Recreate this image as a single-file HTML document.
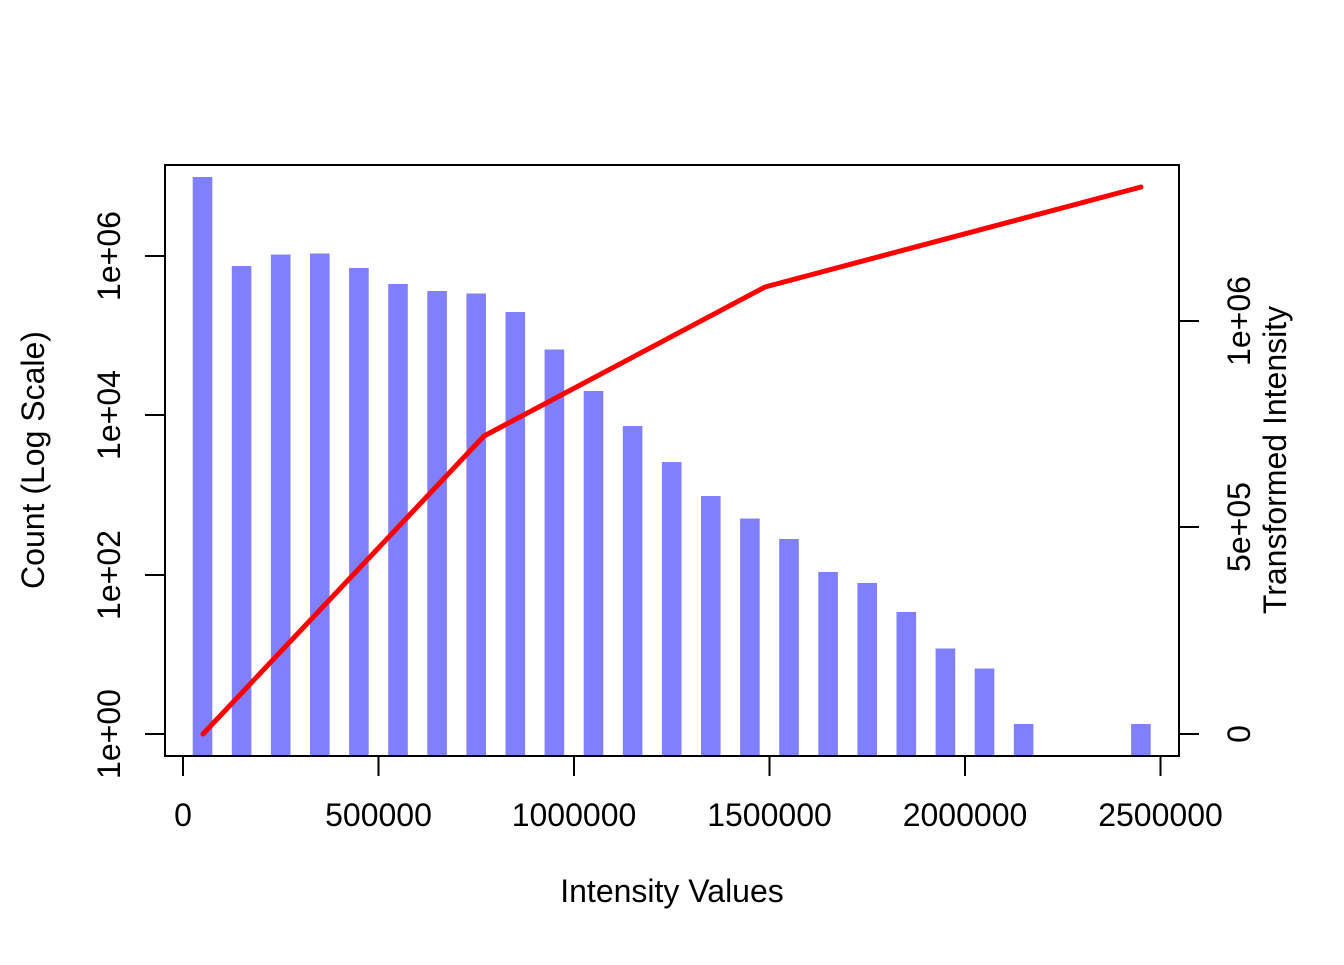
<!DOCTYPE html>
<html><head><style>body{margin:0;background:#fff}</style></head><body>
<svg width="1344" height="960" xmlns="http://www.w3.org/2000/svg" font-family="Liberation Sans, Arial, sans-serif" font-size="32">
<rect width="1344" height="960" fill="#fff"/>
<g fill="#8080ff">
<rect x="192.7" y="177" width="19.6" height="579"/>
<rect x="231.8" y="266" width="19.6" height="490"/>
<rect x="270.9" y="254.5" width="19.6" height="501.5"/>
<rect x="310" y="253.5" width="19.6" height="502.5"/>
<rect x="349.1" y="268" width="19.6" height="488"/>
<rect x="388.2" y="284" width="19.6" height="472"/>
<rect x="427.3" y="291" width="19.6" height="465"/>
<rect x="466.4" y="293.5" width="19.6" height="462.5"/>
<rect x="505.5" y="312" width="19.6" height="444"/>
<rect x="544.6" y="349.5" width="19.6" height="406.5"/>
<rect x="583.7" y="391" width="19.6" height="365"/>
<rect x="622.8" y="426" width="19.6" height="330"/>
<rect x="661.9" y="462" width="19.6" height="294"/>
<rect x="701" y="496" width="19.6" height="260"/>
<rect x="740.1" y="518.5" width="19.6" height="237.5"/>
<rect x="779.2" y="539" width="19.6" height="217"/>
<rect x="818.3" y="572" width="19.6" height="184"/>
<rect x="857.4" y="583" width="19.6" height="173"/>
<rect x="896.5" y="612" width="19.6" height="144"/>
<rect x="935.6" y="648.5" width="19.6" height="107.5"/>
<rect x="974.7" y="668.5" width="19.6" height="87.5"/>
<rect x="1013.8" y="724" width="19.6" height="32"/>
<rect x="1131.1" y="724" width="19.6" height="32"/>
</g>
<polyline points="203,734 484,436 765,287 1141,187" fill="none" stroke="#ff0000" stroke-width="5" stroke-linecap="round" stroke-linejoin="round"/>
<rect x="165" y="165" width="1014" height="591" fill="none" stroke="#000" stroke-width="2"/>
<g stroke="#000" stroke-width="2">
<line x1="183" y1="756" x2="1160.5" y2="756"/>
<line x1="183" y1="756" x2="183" y2="776"/>
<line x1="378.5" y1="756" x2="378.5" y2="776"/>
<line x1="574" y1="756" x2="574" y2="776"/>
<line x1="769.5" y1="756" x2="769.5" y2="776"/>
<line x1="965" y1="756" x2="965" y2="776"/>
<line x1="1160.5" y1="756" x2="1160.5" y2="776"/>
<line x1="165" y1="256" x2="165" y2="734"/>
<line x1="145" y1="256" x2="165" y2="256"/>
<line x1="145" y1="415" x2="165" y2="415"/>
<line x1="145" y1="575" x2="165" y2="575"/>
<line x1="145" y1="734" x2="165" y2="734"/>
<line x1="1179" y1="321" x2="1199" y2="321"/>
<line x1="1179" y1="527" x2="1199" y2="527"/>
<line x1="1179" y1="734" x2="1199" y2="734"/>
</g>
<g text-anchor="middle">
<text x="183" y="826">0</text>
<text x="378.5" y="826">500000</text>
<text x="574" y="826">1000000</text>
<text x="769.5" y="826">1500000</text>
<text x="965" y="826">2000000</text>
<text x="1160.5" y="826">2500000</text>
<text x="672" y="902">Intensity Values</text>
<text transform="translate(120,256) rotate(-90)">1e+06</text>
<text transform="translate(120,415) rotate(-90)">1e+04</text>
<text transform="translate(120,575) rotate(-90)">1e+02</text>
<text transform="translate(120,734) rotate(-90)">1e+00</text>
<text transform="translate(44,460) rotate(-90)">Count (Log Scale)</text>
<text transform="translate(1250,321) rotate(-90)">1e+06</text>
<text transform="translate(1250,527) rotate(-90)">5e+05</text>
<text transform="translate(1250,734) rotate(-90)">0</text>
<text transform="translate(1286,460) rotate(-90)">Transformed Intensity</text>
</g>
</svg>
</body></html>
